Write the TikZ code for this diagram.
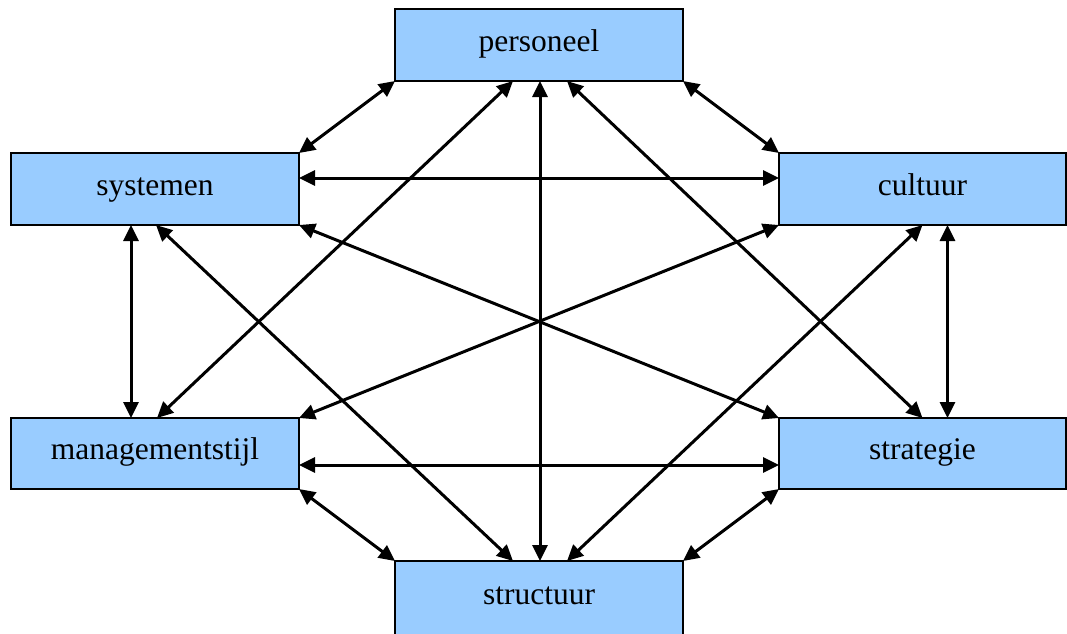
\documentclass[tikz,border=0pt]{standalone}
\usepackage{fontspec}
\setmainfont{Liberation Serif}
\usetikzlibrary{arrows.meta,calc}
\definecolor{boxblue}{HTML}{99CCFF}
\begin{document}
\begin{tikzpicture}[x=1pt,y=-1pt,
  box/.style={draw=black,line width=1.6pt,fill=boxblue,inner sep=0pt,outer sep=0pt,
    minimum width=288pt,minimum height=72pt,text height=19pt,text depth=7pt,
    font=\fontsize{31.5}{36}\selectfont},
  link/.style={line width=3pt,{Triangle[length=16pt,width=15pt]}-{Triangle[length=16pt,width=15pt]}}]
\useasboundingbox (0,0) rectangle (1067,633);
\node[box] (P) at (539,45) {personeel};
\node[box] (S) at (155,189) {systemen};
\node[box,minimum width=287pt] (C) at (922.5,189) {cultuur};
\node[box,minimum height=71pt] (M) at (155,453.5) {managementstijl};
\node[box,minimum width=287pt,minimum height=71pt] (T) at (922.5,453.5) {strategie};
\node[box,minimum height=76pt,text height=21pt,text depth=11pt] (U) at (539,599) {structuur};
% corner links
\draw[link] (P.south west) -- (S.north east);
\draw[link] (P.south east) -- (C.north west);
\draw[link] (M.south east) -- (U.north west);
\draw[link] (T.south west) -- (U.north east);
% horizontals and verticals
\draw[link] ($(S.east)+(0,-11)$) -- ($(C.west)+(0,-11)$);
\draw[link] ($(M.east)+(0,11.5)$) -- ($(T.west)+(0,11.5)$);
\draw[link] ($(S.south)+(-24,0)$) -- ($(M.north)+(-24,0)$);
\draw[link] ($(C.south)+(25,0)$) -- ($(T.north)+(25,0)$);
\draw[link] ($(P.south)+(1,0)$) -- ($(U.north)+(1,0)$);
% diagonals
\draw[link] ($(P.south)+(-26,0)$) -- ($(M.north)+(2,0)$);
\draw[link] ($(P.south)+(28,0)$) -- ($(T.north)+(0,0)$);
\draw[link] ($(S.south)+(1,0)$) -- ($(U.north)+(-26,0)$);
\draw[link] ($(C.south)+(0,0)$) -- ($(U.north)+(28,0)$);
% crossing diagonals
\draw[link] (S.south east) -- (T.north west);
\draw[link] (C.south west) -- (M.north east);
\end{tikzpicture}
\end{document}
